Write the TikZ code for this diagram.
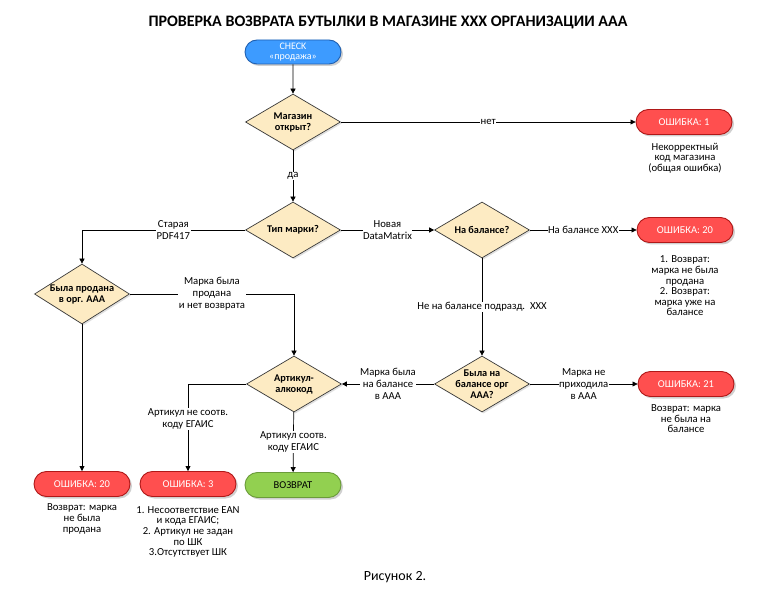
\documentclass[tikz,border=0pt]{standalone}
\usepackage{fontspec}
\setmainfont{Carlito}
\usetikzlibrary{shapes.geometric,shapes.misc,arrows.meta,shadows}

\definecolor{startblue}{HTML}{3D9BFF}
\definecolor{startborder}{HTML}{1F5FB0}
\definecolor{errred}{HTML}{FF4F4F}
\definecolor{errborder}{HTML}{B01818}
\definecolor{okgreen}{HTML}{92D050}
\definecolor{okborder}{HTML}{6B9B3A}
\definecolor{diafill}{HTML}{FDEBC3}
\definecolor{diaborder}{HTML}{3A3A3A}

\begin{document}
\begin{tikzpicture}[x=1pt,y=-1pt,
 pill/.style={rounded rectangle, minimum width=96pt, minimum height=25pt, inner sep=0pt,
   line width=0.9pt, font=\fontsize{10.5}{11}\selectfont, align=center,
   drop shadow={shadow xshift=2pt, shadow yshift=-2pt, opacity=0.3, fill=black!60}},
 startpill/.style={pill, fill=startblue, draw=startborder, text=white, font=\fontsize{10}{10.5}\selectfont},
 errpill/.style={pill, fill=errred, draw=errborder, text=white},
 okpill/.style={pill, fill=okgreen, draw=okborder, text=black},
 dia/.style={diamond, draw=diaborder, fill=diafill, line width=0.7pt, minimum width=95pt,
   minimum height=56pt, inner sep=0pt,
   drop shadow={shadow xshift=1.5pt, shadow yshift=-1.5pt, opacity=0.2, fill=black!60}},
 diatext/.style={font=\bfseries\fontsize{10.3}{11}\selectfont, align=center, inner sep=0pt},
 note/.style={font=\fontsize{10.7}{10.6}\selectfont, align=center, inner sep=0pt},
 elabel/.style={font=\fontsize{10.7}{12.2}\selectfont, align=center, fill=white, inner sep=0.5pt},
 conn/.style={draw=black, line width=0.7pt, -{Triangle[length=5pt,width=5pt]}},
]
\useasboundingbox[fill=white] (0,0) rectangle (774,612);

\node[font=\bfseries\fontsize{16}{18}\selectfont] (title) at (388,22)
  {ПРОВЕРКА ВОЗВРАТА БУТЫЛКИ В МАГАЗИНЕ XXX ОРГАНИЗАЦИИ ААА};

\node[startpill, minimum height=24pt] (start) at (293,52) {CHECK\\«продажа»};

\node[dia] (shop) at (293,122) {};
\node[diatext] at (shop) {Магазин\\открыт?};
\node[errpill] (e1) at (684,122) {ОШИБКА: 1};
\node[note] (n1) at (685,158) {Некорректный\\код магазина\\(общая ошибка)};

\node[dia] (type) at (293,230) {};
\node[diatext] at (type) {Тип марки?};

\node[dia] (bal) at (482,230) {};
\node[diatext] at (bal) {На балансе?};
\node[errpill] (e20r) at (685,230) {ОШИБКА: 20};
\node[note] (n20r) at (685,286) {1. Возврат:\\марка не была\\продана\\2. Возврат:\\марка уже на\\балансе};

\node[dia] (bal2) at (482,384) {};
\node[diatext] at (bal2) {Была на\\балансе орг\\ААА?};
\node[errpill] (e21) at (686,384) {ОШИБКА: 21};
\node[note] (n21) at (686,419) {Возврат: марка\\не была на\\балансе};

\node[dia] (art) at (294,384) {};
\node[diatext] at (art) {Артикул-\\алкокод};

\node[dia, minimum height=60pt] (sold) at (82,294) {};
\node[diatext] at (sold) {Была продана\\в орг. ААА};

\node[errpill] (e20l) at (82,484) {ОШИБКА: 20};
\node[note] (n20l) at (82,519) {Возврат: марка\\не была\\продана};

\node[errpill] (e3) at (188,484) {ОШИБКА: 3};
\node[note] (n3) at (188,532) {1. Несоответствие EAN\\и кода ЕГАИС;\\2. Артикул не задан\\по ШК\\3.Отсутствует ШК};

\node[okpill] (ok) at (293,485) {ВОЗВРАТ};

\node[font=\fontsize{14}{16}\selectfont] (cap) at (395,577) {Рисунок 2.};

\draw[conn] (start) -- (shop);
\draw[conn] (shop) -- node[elabel]{нет} (e1);
\draw[conn] (shop) -- node[elabel]{да} (type);
\draw[conn] (type.west) -| node[elabel,pos=0.22]{Старая\\PDF417} (sold.north);
\draw[conn] (type) -- node[elabel]{Новая\\DataMatrix} (bal);
\draw[conn] (bal) -- node[elabel]{На балансе XXX} (e20r);
\draw[conn] (bal) -- node[elabel]{Не на балансе подразд.~~XXX} (bal2);
\draw[conn] (bal2) -- node[elabel]{Марка не\\приходила\\в ААА} (e21);
\draw[conn] (bal2) -- node[elabel]{Марка была\\на балансе\\в ААА} (art);
\draw[conn] (sold.east) -| node[elabel,pos=0.25]{Марка была\\продана\\и нет возврата} (art.north);
\draw[conn] (sold) -- (e20l);
\draw[conn] (art.west) -| node[elabel,pos=0.7]{Артикул не соотв.\\коду ЕГАИС} (e3.north);
\draw[conn] (art) -- node[elabel]{Артикул соотв.\\коду ЕГАИС} (ok);
\end{tikzpicture}
\end{document}
